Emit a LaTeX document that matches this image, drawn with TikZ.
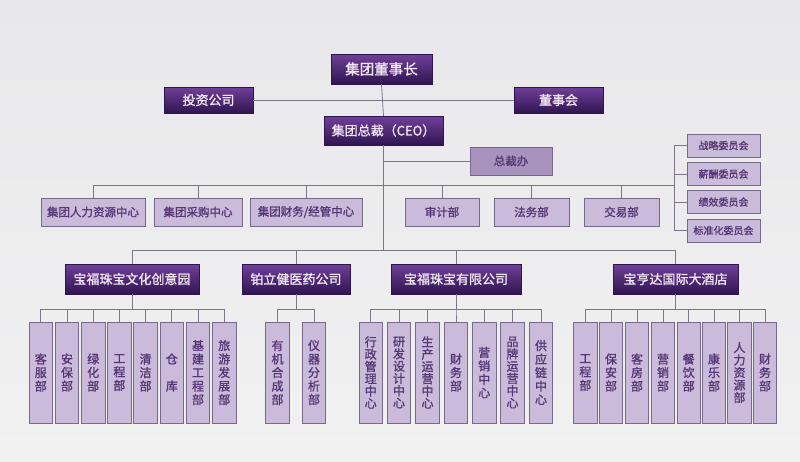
\documentclass[tikz,border=0pt]{standalone}
\usepackage{fontspec}
\setmainfont{Noto Sans CJK SC}[FakeBold=1.2]
\definecolor{bgtop}{HTML}{E8E8EA}
\definecolor{bgbot}{HTML}{F1F1F2}
\definecolor{darktop}{HTML}{70409A}
\definecolor{darkbot}{HTML}{2F1550}
\definecolor{midfill}{HTML}{A892BE}
\definecolor{lightfill}{HTML}{C9BBD9}
\definecolor{boxline}{HTML}{76698A}
\definecolor{boxtext}{HTML}{563675}
\definecolor{linkgray}{HTML}{7E7688}
\tikzset{
  link/.style={draw=linkgray, line width=0.8pt},
  darkbox/.style={rectangle, inner sep=0pt, top color=darktop, bottom color=darkbot,
    draw=darkbot, text=white!90!violet, font=\fontsize{13}{15}\selectfont},
  midbox/.style={rectangle, inner sep=0pt, fill=midfill, draw=boxline, line width=0.8pt,
    text=boxtext, font=\fontsize{11.5}{13}\selectfont},
  lightbox/.style={rectangle, inner sep=0pt, fill=lightfill, draw=boxline, line width=0.8pt,
    text=boxtext, font=\fontsize{11.5}{13}\selectfont, minimum height=28pt},
  combox/.style={lightbox, minimum width=73pt, minimum height=23pt, font=\fontsize{10}{12}\selectfont},
  vbox/.style={lightbox, minimum width=23.5pt, minimum height=101pt, align=center,
    font=\fontsize{12}{13.5}\selectfont}
}
\begin{document}
\begin{tikzpicture}[x=1pt,y=-1pt]
    \shade[top color=bgtop, bottom color=bgbot] (0,0) rectangle (800,461);

    % top level
    \node[darkbox, minimum width=101pt, minimum height=30pt, font=\fontsize{14.5}{16}\selectfont] (chair) at (381.5,69) {集团董事长};
    \node[darkbox, minimum width=89pt, minimum height=26pt] (invest) at (208.5,100) {投资公司};
    \node[darkbox, minimum width=89pt, minimum height=26pt] (board) at (558.5,100) {董事会};
    \node[darkbox, minimum width=119pt, minimum height=29pt] (ceo) at (383.5,130.5) {集团总裁（CEO）};
    \node[midbox, minimum width=82pt, minimum height=28pt] (office) at (511,161) {总裁办};

    % centres and departments
    \node[lightbox, minimum width=104pt] (hr) at (93,212) {集团人力资源中心};
    \node[lightbox, minimum width=88pt] (purch) at (198,212) {集团采购中心};
    \node[lightbox, minimum width=112pt] (fin) at (306,212) {集团财务/经管中心};
    \node[lightbox, minimum width=74pt] (audit) at (442,212) {审计部};
    \node[lightbox, minimum width=75pt] (legal) at (531.5,212) {法务部};
    \node[lightbox, minimum width=75pt] (trade) at (621.5,212) {交易部};

    % committees
    \node[combox] (com1) at (723.5,145.5) {战略委员会};
    \node[combox] (com2) at (723.5,174) {薪酬委员会};
    \node[combox] (com3) at (723.5,202) {绩效委员会};
    \node[combox] (com4) at (723.5,230.5) {标准化委员会};

    % companies
    \node[darkbox, minimum width=134pt, minimum height=30pt] (park) at (132,279) {宝福珠宝文化创意园};
    \node[darkbox, minimum width=108pt, minimum height=30pt] (pharma) at (296,279) {铂立健医药公司};
    \node[darkbox, minimum width=130pt, minimum height=30pt] (jewel) at (456,279) {宝福珠宝有限公司};
    \node[darkbox, minimum width=125pt, minimum height=30pt] (hotel) at (675.5,279) {宝亨达国际大酒店};

    % park departments
    \node[vbox] (pa1) at (40.8,372.5) {客\\服\\部};
    \node[vbox] (pa2) at (67,372.5) {安\\保\\部};
    \node[vbox] (pa3) at (93.2,372.5) {绿\\化\\部};
    \node[vbox] (pa4) at (119.4,372.5) {工\\程\\部};
    \node[vbox] (pa5) at (145.6,372.5) {清\\洁\\部};
    \node[vbox] (pa6) at (171.8,372.5) {仓\\\\库};
    \node[vbox] (pa7) at (198,372.5) {基\\建\\工\\程\\部};
    \node[vbox] (pa8) at (224.2,372.5) {旅\\游\\发\\展\\部};

    % pharma departments
    \node[vbox] (ph1) at (277.5,372.5) {有\\机\\合\\成\\部};
    \node[vbox] (ph2) at (314,372.5) {仪\\器\\分\\析\\部};

    % jewel departments
    \node[vbox, font=\fontsize{12}{12.3}\selectfont] (je1) at (370.7,372.5) {行\\政\\管\\理\\中\\心};
    \node[vbox, font=\fontsize{12}{12.3}\selectfont] (je2) at (399,372.5) {研\\发\\设\\计\\中\\心};
    \node[vbox, font=\fontsize{12}{12.3}\selectfont] (je3) at (427.5,372.5) {生\\产\\运\\营\\中\\心};
    \node[vbox] (je4) at (456,372.5) {财\\务\\部};
    \node[vbox] (je5) at (484.2,372.5) {营\\销\\中\\心};
    \node[vbox, font=\fontsize{12}{12.3}\selectfont] (je6) at (512.5,372.5) {品\\牌\\运\\营\\中\\心};
    \node[vbox] (je7) at (541,372.5) {供\\应\\链\\中\\心};

    % hotel departments
    \node[vbox] (ho1) at (585.3,372.5) {工\\程\\部};
    \node[vbox] (ho2) at (611,372.5) {保\\安\\部};
    \node[vbox] (ho3) at (637,372.5) {客\\房\\部};
    \node[vbox] (ho4) at (663,372.5) {营\\销\\部};
    \node[vbox] (ho5) at (688.7,372.5) {餐\\饮\\部};
    \node[vbox] (ho6) at (714,372.5) {康\\乐\\部};
    \node[vbox, font=\fontsize{12}{12.5}\selectfont] (ho7) at (739.5,372.5) {人\\力\\资\\源\\部};
    \node[vbox] (ho8) at (765,372.5) {财\\务\\部};

    % connectors, top
    \draw[link] (chair.south) -- (ceo.north);
    \draw[link] (invest.east) -- (board.west);
    \draw[link] (ceo.south |- office.west) -- (office.west);
    \draw[link] (ceo.south) -- ++(0,40) -| (hr.north);
    \draw[link] (ceo.south) -- ++(0,40) -| (purch.north);
    \draw[link] (ceo.south) -- ++(0,40) -| (fin.north);
    \draw[link] (ceo.south) -- ++(0,40) -| (audit.north);
    \draw[link] (ceo.south) -- ++(0,40) -| (legal.north);
    \draw[link] (ceo.south) -- ++(0,40) -| (trade.north);
    \draw[link] (com1.west) -- ++(-12,0) |- (com4.west);
    \draw[link] (com2.west) -- ++(-12,0);
    \draw[link] (com3.west) -- ++(-12,0);
    \draw[link] (ceo.south) -- ++(0,40) -| ([xshift=-12pt]com1.west);

    % connectors, companies
    \draw[link] (ceo.south) -- ++(0,105) -| (park.north);
    \draw[link] (ceo.south) -- ++(0,105) -| (pharma.north);
    \draw[link] (ceo.south) -- ++(0,105) -| (jewel.north);
    \draw[link] (ceo.south) -- ++(0,105) -| (hotel.north);

    % connectors, departments
    \foreach \d in {pa1,pa2,pa3,pa4,pa5,pa6,pa7,pa8}
        \draw[link] (park.south) -- ++(0,15) -| (\d.north);
    \foreach \d in {ph1,ph2}
        \draw[link] (pharma.south) -- ++(0,15) -| (\d.north);
    \foreach \d in {je1,je2,je3,je4,je5,je6,je7}
        \draw[link] (jewel.south) -- ++(0,15) -| (\d.north);
    \foreach \d in {ho1,ho2,ho3,ho4,ho5,ho6,ho7,ho8}
        \draw[link] (hotel.south) -- ++(0,15) -| (\d.north);
\end{tikzpicture}
\end{document}
